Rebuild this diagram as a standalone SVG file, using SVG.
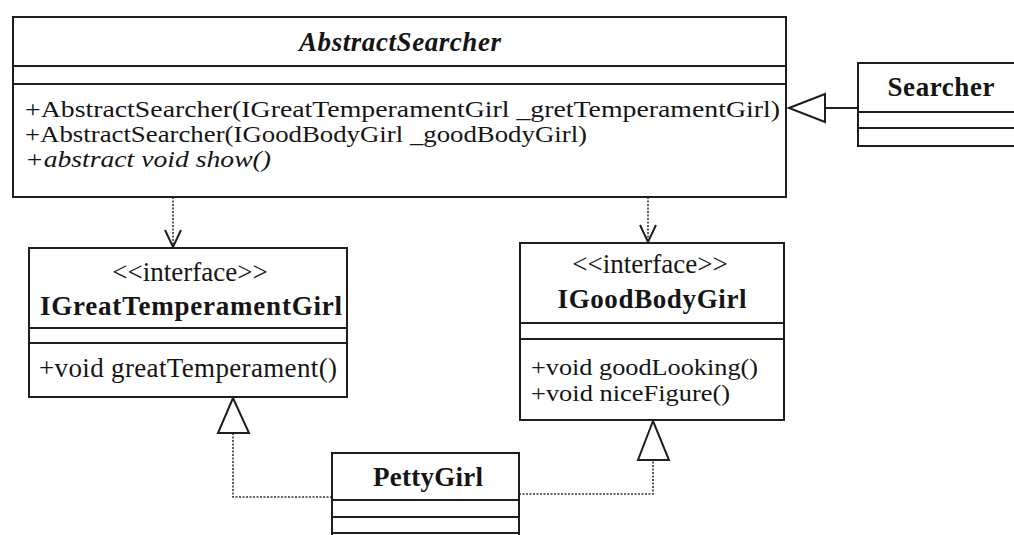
<svg xmlns="http://www.w3.org/2000/svg" width="1014" height="535" viewBox="0 0 1014 535">
<style>
.box{fill:#fff;stroke:#1e1e1e;stroke-width:2}
.sep{stroke:#1e1e1e;stroke-width:2;fill:none}
.t{font-family:"Liberation Serif","Times New Roman",serif;font-size:27px;fill:#151515}
.m{font-size:23px}
.b{font-weight:bold}
.i{font-style:italic}
.c{text-anchor:middle}
.dep{stroke:#333;stroke-width:1.6;stroke-dasharray:2 1.5;fill:none}
.solid{stroke:#1e1e1e;stroke-width:2;fill:none}
.tri{fill:#fff;stroke:#1e1e1e;stroke-width:2}
.open{fill:none;stroke:#1e1e1e;stroke-width:2}
</style>
<rect width="1014" height="535" fill="#fff"/>
<g id="connectors">
  <line class="solid" x1="858" y1="108" x2="825" y2="108"/>
  <polygon class="tri" points="789,108 825,94 825,122"/>
  <line class="dep" x1="173" y1="197" x2="173" y2="246"/>
  <polyline class="open" points="165,230 173,247 181,230"/>
  <line class="dep" x1="648" y1="197" x2="648" y2="241"/>
  <polyline class="open" points="640,225 648,242 656,225"/>
  <polyline class="dep" points="332,497 233,497 233,433"/>
  <polygon class="tri" points="233,398 218,433 249,433"/>
  <polyline class="dep" points="519,494 653,494 653,460"/>
  <polygon class="tri" points="653,421 638,460 669,460"/>
</g>
<g id="AbstractSearcher">
  <rect class="box" x="13" y="17" width="773" height="180"/>
  <line class="sep" x1="13" y1="66" x2="786" y2="66"/>
  <line class="sep" x1="13" y1="84" x2="786" y2="84"/>
  <text class="t b i c" x="400" y="51" textLength="202">AbstractSearcher</text>
  <text class="t m" x="25" y="117" textLength="755" lengthAdjust="spacingAndGlyphs">+AbstractSearcher(IGreatTemperamentGirl _gretTemperamentGirl)</text>
  <text class="t m" x="25" y="142" textLength="562" lengthAdjust="spacingAndGlyphs">+AbstractSearcher(IGoodBodyGirl _goodBodyGirl)</text>
  <text class="t m i" x="25" y="167" textLength="246" lengthAdjust="spacingAndGlyphs">+abstract void show()</text>
</g>
<g id="Searcher">
  <rect class="box" x="858" y="63" width="200" height="83"/>
  <line class="sep" x1="858" y1="112" x2="1014" y2="112"/>
  <line class="sep" x1="858" y1="128" x2="1014" y2="128"/>
  <text class="t b c" x="941" y="96" textLength="107">Searcher</text>
</g>
<g id="IGreatTemperamentGirl">
  <rect class="box" x="29" y="248" width="318" height="149"/>
  <line class="sep" x1="29" y1="328" x2="347" y2="328"/>
  <line class="sep" x1="29" y1="343" x2="347" y2="343"/>
  <text class="t c" x="190" y="281">&lt;&lt;interface&gt;&gt;</text>
  <text class="t b c" x="191" y="315" textLength="302">IGreatTemperamentGirl</text>
  <text class="t" x="39" y="377" textLength="298">+void greatTemperament()</text>
</g>
<g id="IGoodBodyGirl">
  <rect class="box" x="520" y="243" width="264" height="177"/>
  <line class="sep" x1="520" y1="323" x2="784" y2="323"/>
  <line class="sep" x1="520" y1="339" x2="784" y2="339"/>
  <text class="t c" x="650" y="273">&lt;&lt;interface&gt;&gt;</text>
  <text class="t b c" x="652" y="308" textLength="189">IGoodBodyGirl</text>
  <text class="t m" x="531" y="375" textLength="227" lengthAdjust="spacingAndGlyphs">+void goodLooking()</text>
  <text class="t m" x="531" y="401" textLength="199" lengthAdjust="spacingAndGlyphs">+void niceFigure()</text>
</g>
<g id="PettyGirl">
  <rect class="box" x="332" y="453" width="187" height="100"/>
  <line class="sep" x1="332" y1="500" x2="519" y2="500"/>
  <line class="sep" x1="332" y1="517" x2="519" y2="517"/>
  <line class="sep" x1="332" y1="533" x2="519" y2="533"/>
  <text class="t b c" x="428" y="486" textLength="110">PettyGirl</text>
</g>
</svg>
